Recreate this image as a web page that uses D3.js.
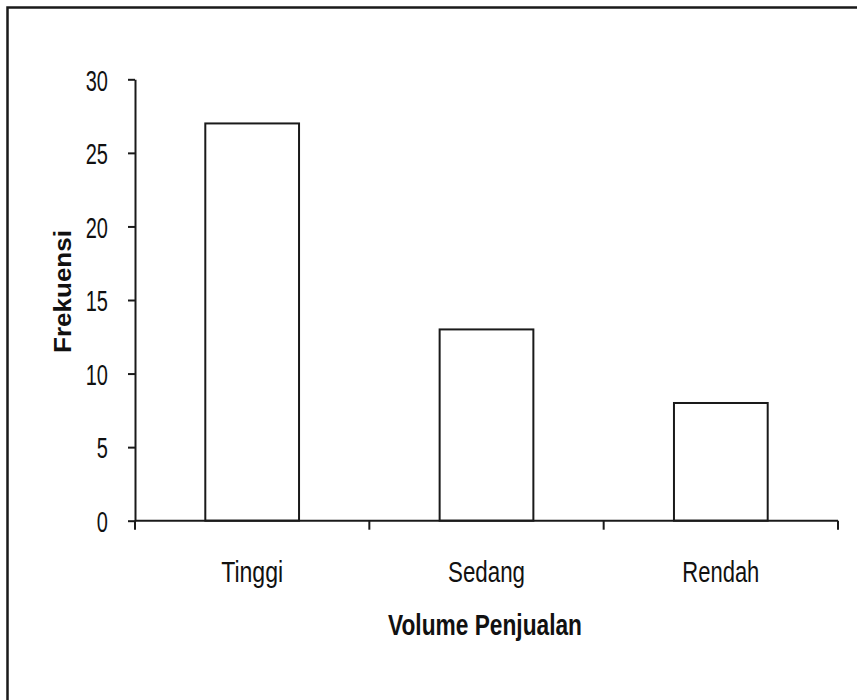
<!DOCTYPE html>
<html>
<head>
<meta charset="utf-8">
<script src="https://cdn.jsdelivr.net/npm/d3@7"></script>
<style>
  html, body { margin: 0; padding: 0; background: #fff; }
  svg { display: block; }
  text { font-family: Arial, "Liberation Sans", sans-serif; fill: #111; }
</style>
</head>
<body>
<svg id="chart" width="857" height="700"></svg>
<script>
const categories = ["Tinggi", "Sedang", "Rendah"];
const values = [27, 13, 8];
const yTicks = [0, 5, 10, 15, 20, 25, 30];
const yTitle = "Frekuensi";
const xTitle = "Volume Penjualan";
const catLabelWidths = [62, 77, 77];

const svg = d3.select("#chart");
const ink = "#1a1a1a";

// outer frame (extends past the right/bottom edge, as in the reference)
svg.append("rect")
  .attr("x", 7.5).attr("y", 7.5)
  .attr("width", 900).attr("height", 800)
  .attr("fill", "none").attr("stroke", ink).attr("stroke-width", 2.5);

const plot = { left: 135, right: 838, top: 79.3, bottom: 520.7 };

const y = d3.scaleLinear().domain([0, 30]).range([plot.bottom, plot.top]);
const x = d3.scaleBand().domain(categories)
  .range([plot.left, plot.right])
  .paddingInner(0.6).paddingOuter(0.3);

// bars
svg.append("g").selectAll("rect")
  .data(categories)
  .join("rect")
  .attr("x", d => x(d))
  .attr("y", (d, i) => y(values[i]))
  .attr("width", x.bandwidth())
  .attr("height", (d, i) => y(0) - y(values[i]))
  .attr("fill", "#fff")
  .attr("stroke", ink)
  .attr("stroke-width", 2);

// y axis
const yAxis = svg.append("g")
  .attr("transform", `translate(${plot.left},0)`)
  .call(d3.axisLeft(y).tickValues(yTicks).tickSize(7).tickPadding(20).tickSizeOuter(0));
yAxis.select(".domain").attr("stroke", ink).attr("stroke-width", 2);
yAxis.selectAll(".tick line").attr("stroke", ink).attr("stroke-width", 2);
yAxis.selectAll(".tick text")
  .attr("font-size", 20)
  .attr("font-family", "Arial, 'Liberation Sans', sans-serif")
  .attr("fill", "#111")
  .attr("dy", null)
  .each(function() {
    const t = d3.select(this);
    const xx = +t.attr("x");
    t.attr("x", 0).attr("transform", `translate(${xx},10.7) scale(1,1.5)`);
  });

// x axis line
svg.append("line")
  .attr("x1", plot.left).attr("x2", plot.right)
  .attr("y1", y(0)).attr("y2", y(0))
  .attr("stroke", ink).attr("stroke-width", 2);

// category boundary ticks
const bounds = d3.range(categories.length + 1).map(i => plot.left + i * x.step());
svg.append("g").selectAll("line")
  .data(bounds)
  .join("line")
  .attr("x1", d => d).attr("x2", d => d)
  .attr("y1", y(0)).attr("y2", y(0) + 9)
  .attr("stroke", ink).attr("stroke-width", 2);

// category labels
svg.append("g").selectAll("text")
  .data(categories)
  .join("text")
  .attr("transform", d => `translate(${x(d) + x.bandwidth() / 2},581.7) scale(1,1.5)`)
  .attr("text-anchor", "middle")
  .attr("font-size", 20)
  .attr("textLength", (d, i) => catLabelWidths[i])
  .attr("lengthAdjust", "spacingAndGlyphs")
  .text(d => d);

// x title
svg.append("text")
  .attr("transform", `translate(${(plot.left + plot.right) / 2 - 1.5},635) scale(1,1.5)`)
  .attr("text-anchor", "middle")
  .attr("font-size", 20)
  .attr("font-weight", "bold")
  .attr("textLength", 194)
  .attr("lengthAdjust", "spacingAndGlyphs")
  .text(xTitle);

// y title
svg.append("text")
  .attr("transform", `translate(70.5,291.5) rotate(-90)`)
  .attr("text-anchor", "middle")
  .attr("font-size", 24)
  .attr("font-weight", "bold")
  .attr("textLength", 123)
  .attr("lengthAdjust", "spacingAndGlyphs")
  .text(yTitle);
</script>
</body>
</html>
